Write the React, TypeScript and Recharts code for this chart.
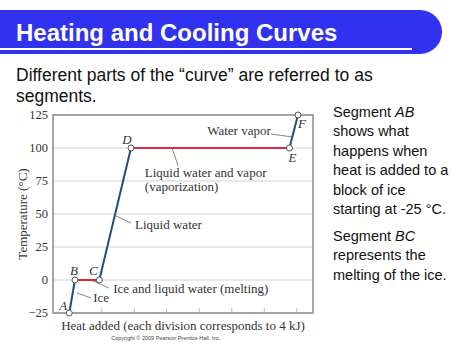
import {
  ComposedChart,
  CartesianGrid,
  Label,
  Line,
  ReferenceArea,
  ReferenceDot,
  ReferenceLine,
  XAxis,
  YAxis,
} from 'recharts'

// heat in kJ (one minor division = 4 kJ), temperature in °C
const pointNames = ['A', 'B', 'C', 'D', 'E', 'F']
const heat = [4, 5.4, 11.4, 19.2, 58.2, 60.3]
const temp = [-25, 0, 0, 100, 100, 125]
// segment i joins point i and i+1; phase changes are red
const segmentPhaseChange = [false, true, false, true, false]

const yTicks = [-25, 0, 25, 50, 75, 100, 125]
const xGrid = [0, 8, 16, 24, 32, 40, 48, 56, 64]
const xMinor = [4, 12, 20, 28, 36, 44, 52, 60]

// callouts: text anchor + leader line, in data units
const notes = [
  { text: 'Water vapor', x: 53.6, y: 112.9, anchor: 'end', lx: [53.7, 59.0], ly: [110.6, 108.3] },
  { text: 'Liquid water and vapor', x: 22.6, y: 81.1, anchor: 'start', lx: [29.3, 30.8], ly: [100, 86.4] },
  { text: '(vaporization)', x: 22.6, y: 70.5, anchor: 'start', lx: null, ly: null },
  { text: 'Liquid water', x: 20.2, y: 42.4, anchor: 'start', lx: [15.5, 19.2], ly: [48.5, 43.2] },
  { text: 'Ice and liquid water (melting)', x: 14.8, y: -6.8, anchor: 'start', lx: [9.4, 13.8], ly: [0, -6.1] },
  { text: 'Ice', x: 9.9, y: -13.6, anchor: 'start', lx: [5.9, 9.4], ly: [-9.8, -13.6] },
]

const BLUE = '#1b4f82'
const RED = '#d92a3c'
const SERIF = '"Liberation Serif", "DejaVu Serif", serif'
const SANS = '"Liberation Sans", Arial, sans-serif'

// small nudges for the point letters
const letterOffset: Record<string, [number, number]> = {
  A: [-6, -8],
  B: [-1, -10],
  C: [-6, -10],
  D: [-4, -9],
  E: [3, 9],
  F: [4, 8],
}

const segments = segmentPhaseChange.map((phase, i) => ({
  key: `${pointNames[i]}${pointNames[i + 1]}`,
  color: phase ? RED : BLUE,
  data: [
    { q: heat[i], t: temp[i] },
    { q: heat[i + 1], t: temp[i + 1] },
  ],
}))

function fmtTemp(v: number) {
  return v < 0 ? `\u2212${-v}` : `${v}`
}

function HeatingChart() {
  return (
    <ComposedChart width={330} height={250} margin={{ top: 15, right: 17, left: 13, bottom: 7 }}>
      <CartesianGrid stroke="#d2d2d2" strokeWidth={1} horizontalValues={yTicks} verticalValues={xGrid} />
      <XAxis
        type="number"
        dataKey="q"
        domain={[0, 64]}
        ticks={xGrid}
        tick={false}
        tickLine={false}
        axisLine={false}
        height={30}
      >
        <Label
          value="Heat added (each division corresponds to 4 kJ)"
          position="insideTop"
          offset={8}
          style={{ fontFamily: SERIF, fontSize: 13, fill: '#333' }}
        />
      </XAxis>
      <YAxis
        type="number"
        domain={[-25, 125]}
        ticks={yTicks}
        tickFormatter={fmtTemp}
        tick={{ fontFamily: SERIF, fontSize: 12.5, fill: '#333' }}
        tickLine={false}
        tickSize={3}
        tickMargin={2}
        axisLine={false}
        width={40}
      >
        <Label
          content={(props: any) => {
            const vb = props.viewBox || { x: 13, y: 15, height: 198 }
            return (
              <text
                transform={`translate(${vb.x + 9},${vb.y + vb.height / 2}) rotate(-90)`}
                textAnchor="middle"
                dominantBaseline="central"
                style={{ fontFamily: SERIF, fontSize: 13, fill: '#333' }}
              >
                Temperature (°C)
              </text>
            )
          }}
        />
      </YAxis>
      <ReferenceArea x1={0} x2={64} y1={-25} y2={125} fill="none" stroke="#8a8a8a" strokeWidth={1.5} />
      {xMinor.map((x) => (
        <ReferenceLine
          key={`m${x}`}
          segment={[
            { x, y: -25 },
            { x, y: -21.5 },
          ]}
          stroke="#b5b5b5"
        />
      ))}
      {notes
        .filter((n) => n.lx)
        .map((n) => (
          <ReferenceLine
            key={`l-${n.text}`}
            segment={[
              { x: n.lx![0], y: n.ly![0] },
              { x: n.lx![1], y: n.ly![1] },
            ]}
            stroke="#666"
            strokeWidth={0.8}
          />
        ))}
      {segments.map((s) => (
        <Line
          key={s.key}
          data={s.data}
          dataKey="t"
          type="linear"
          stroke={s.color}
          strokeWidth={2}
          dot={false}
          activeDot={false}
          isAnimationActive={false}
        />
      ))}
      {notes.map((n) => (
        <ReferenceDot
          key={`t-${n.text}`}
          x={n.x}
          y={n.y}
          r={0}
          stroke="none"
          label={{
            content: (props: any) => {
              const vb = props.viewBox
              return (
                <text
                  x={vb.x + vb.width / 2}
                  y={vb.y + vb.height / 2}
                  textAnchor={n.anchor}
                  dominantBaseline="central"
                  style={{ fontFamily: SERIF, fontSize: 13, fill: '#333' }}
                >
                  {n.text}
                </text>
              )
            },
          }}
        />
      ))}
      {pointNames.map((name, i) => (
        <ReferenceDot
          key={name}
          x={heat[i]}
          y={temp[i]}
          r={3}
          fill="#fff"
          stroke="#555"
          strokeWidth={1}
          label={{
            content: (props: any) => {
              const vb = props.viewBox
              const [dx, dy] = letterOffset[name]
              return (
                <text
                  x={vb.x + vb.width / 2 + dx}
                  y={vb.y + vb.height / 2 + dy}
                  textAnchor="middle"
                  dominantBaseline="central"
                  style={{ fontFamily: SERIF, fontStyle: 'italic', fontSize: 13, fill: '#333' }}
                >
                  {name}
                </text>
              )
            },
          }}
        />
      ))}
    </ComposedChart>
  )
}

export default function App() {
  return (
    <div
      style={{
        position: 'absolute',
        left: 0,
        top: 0,
        width: 474,
        height: 355,
        background: '#fff',
        overflow: 'hidden',
        fontFamily: SANS,
      }}
    >
      <div
        style={{
          position: 'absolute',
          left: 0,
          top: 10,
          width: 442,
          height: 44,
          background: '#3131f0',
          borderRadius: '0 22px 22px 0',
        }}
      />
      <div style={{ position: 'absolute', left: 0, top: 48, width: 412, height: 2, background: '#fff' }} />
      <div
        style={{
          position: 'absolute',
          left: 16,
          top: 18,
          fontSize: 24,
          lineHeight: '30px',
          fontWeight: 'bold',
          color: '#fff',
          whiteSpace: 'nowrap',
        }}
      >
        Heating and Cooling Curves
      </div>
      <div
        style={{
          position: 'absolute',
          left: 16,
          top: 65,
          fontSize: 17.5,
          lineHeight: '21px',
          color: '#111',
          whiteSpace: 'nowrap',
        }}
      >
        Different parts of the “curve” are referred to as
        <br />
        segments.
      </div>
      <div
        style={{
          position: 'absolute',
          left: 333,
          top: 103,
          fontSize: 14.5,
          lineHeight: '19.4px',
          color: '#111',
          whiteSpace: 'nowrap',
        }}
      >
        Segment <i>AB</i>
        <br />
        shows what
        <br />
        happens when
        <br />
        heat is added to a
        <br />
        block of ice
        <br />
        starting at -25 °C.
      </div>
      <div
        style={{
          position: 'absolute',
          left: 333,
          top: 227,
          fontSize: 14.5,
          lineHeight: '19.4px',
          color: '#111',
          whiteSpace: 'nowrap',
        }}
      >
        Segment <i>BC</i>
        <br />
        represents the
        <br />
        melting of the ice.
      </div>
      <div style={{ position: 'absolute', left: 0, top: 100 }}>
        <HeatingChart />
      </div>
      <div
        style={{
          position: 'absolute',
          left: 166,
          top: 335,
          transform: 'translateX(-50%)',
          fontSize: 5.5,
          color: '#444',
          whiteSpace: 'nowrap',
        }}
      >
        Copyright © 2009 Pearson Prentice Hall, Inc.
      </div>
    </div>
  )
}
